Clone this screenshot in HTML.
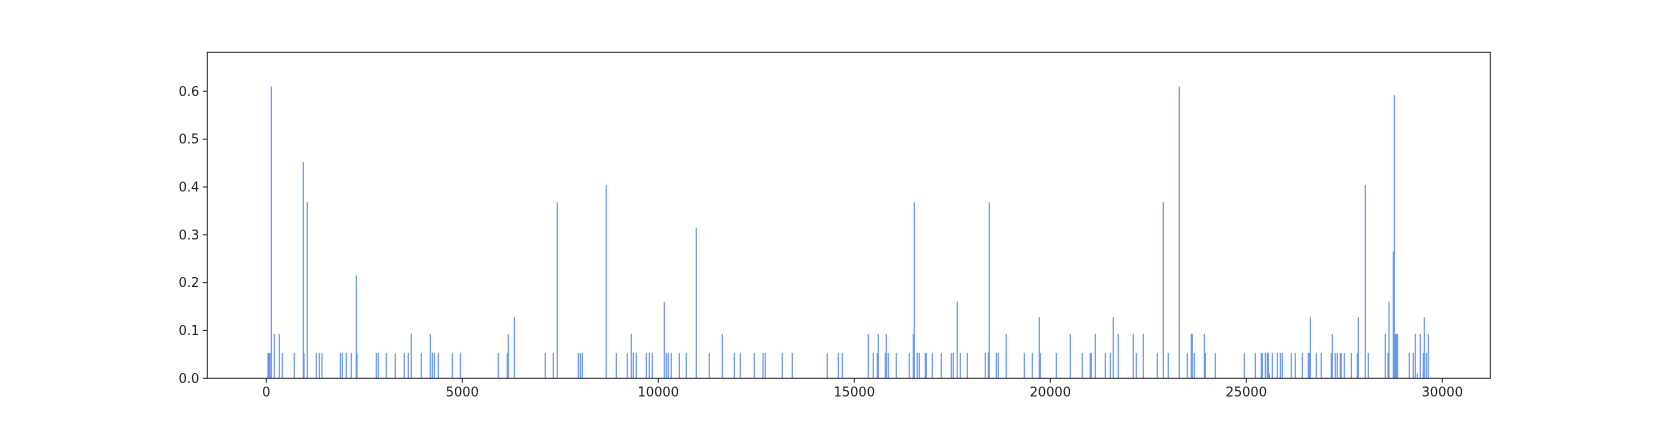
<!DOCTYPE html>
<html><head><meta charset="utf-8">
<style>
html,body{margin:0;padding:0;background:#fff;}
svg{display:block;font-family:"DejaVu Sans","Liberation Sans",sans-serif;}
</style></head>
<body>
<svg id="chart" width="1656" height="432" viewBox="0 0 1656 432" xmlns="http://www.w3.org/2000/svg">
<rect x="0" y="0" width="1656" height="432" fill="#fff"/>
<g id="bars"></g>
<g id="axes"></g>
</svg>
<script>
const xValues = [43,69,94,128,204,332,408,714,944,962,1046,1276,1352,1421,1888,1939,2041,2168,2296,2314,2806,2857,3061,3291,3520,3622,3699,3954,4184,4235,4286,4388,4745,4949,5918,6148,6173,6327,7117,7321,7423,7959,8010,8061,8673,8929,9209,9311,9362,9439,9694,9770,9847,10153,10204,10255,10332,10536,10714,10969,11301,11633,11939,12092,12449,12671,12729,13163,13418,14311,14592,14694,15357,15485,15587,15612,15791,15816,15867,16071,16403,16505,16531,16607,16658,16811,16837,16990,17219,17474,17525,17627,17704,17883,18342,18418,18444,18622,18673,18877,19337,19541,19719,19745,20153,20510,20816,21020,21046,21148,21403,21531,21607,21735,22117,22194,22372,22729,22883,23010,23291,23495,23597,23622,23673,23929,23954,24209,24949,25230,25383,25409,25485,25536,25562,25587,25664,25791,25868,25919,26148,26250,26429,26582,26607,26633,26786,26913,27168,27194,27270,27321,27398,27423,27500,27679,27832,27857,28036,28112,28546,28615,28640,28750,28776,28806,28832,28857,29158,29260,29311,29362,29439,29515,29541,29592,29643];
const yValues = [0.053,0.053,0.053,0.61,0.093,0.093,0.053,0.053,0.452,0.053,0.368,0.053,0.053,0.053,0.053,0.053,0.053,0.053,0.215,0.053,0.053,0.053,0.053,0.053,0.053,0.053,0.093,0.053,0.093,0.053,0.053,0.053,0.053,0.053,0.053,0.053,0.093,0.128,0.053,0.053,0.368,0.053,0.053,0.053,0.404,0.053,0.053,0.093,0.053,0.053,0.053,0.053,0.053,0.16,0.053,0.053,0.053,0.053,0.053,0.315,0.053,0.093,0.053,0.053,0.053,0.053,0.053,0.053,0.053,0.053,0.053,0.053,0.093,0.053,0.053,0.093,0.053,0.093,0.053,0.053,0.053,0.093,0.368,0.053,0.053,0.053,0.053,0.053,0.053,0.053,0.053,0.16,0.053,0.053,0.053,0.053,0.368,0.053,0.053,0.093,0.053,0.053,0.128,0.053,0.053,0.093,0.053,0.053,0.053,0.093,0.053,0.053,0.128,0.093,0.093,0.053,0.093,0.053,0.368,0.053,0.61,0.053,0.093,0.093,0.053,0.093,0.053,0.053,0.053,0.053,0.053,0.053,0.053,0.053,0.053,0.01,0.053,0.053,0.053,0.053,0.053,0.053,0.053,0.053,0.053,0.128,0.053,0.053,0.053,0.093,0.053,0.053,0.053,0.053,0.053,0.053,0.053,0.128,0.404,0.053,0.093,0.053,0.16,0.265,0.592,0.093,0.093,0.093,0.053,0.053,0.093,0.01,0.093,0.053,0.128,0.053,0.093];
const xTicks = [0,5000,10000,15000,20000,25000,30000];
const yTicks = [0,0.1,0.2,0.3,0.4,0.5,0.6];
const yTickLabels = ["0.0","0.1","0.2","0.3","0.4","0.5","0.6"];

const NS = "http://www.w3.org/2000/svg";
const L = 207.3, R = 1490.3, T = 52.3, B = 378.3;
function xs(v){ return 266.3 + v * (1176 / 30000); }
function ys(v){ return B - v * 478.3; }

const barsG = document.getElementById('bars');
for (let i = 0; i < xValues.length; i++) {
  const r = document.createElementNS(NS, 'rect');
  const x = xs(xValues[i]), y = ys(yValues[i]);
  r.setAttribute('x', (x - 0.6).toFixed(2));
  r.setAttribute('y', y.toFixed(2));
  r.setAttribute('width', 1.2);
  r.setAttribute('height', (B - y).toFixed(2));
  r.setAttribute('fill', '#6495ed');
  
  
  barsG.appendChild(r);
}

const ax = document.getElementById('axes');
const frame = document.createElementNS(NS, 'rect');
frame.setAttribute('x', L); frame.setAttribute('y', T);
frame.setAttribute('width', R - L); frame.setAttribute('height', B - T);
frame.setAttribute('fill', 'none'); frame.setAttribute('stroke', '#222'); frame.setAttribute('stroke-width', 1);


ax.appendChild(frame);

xTicks.forEach(function(t){
  const x = xs(t);
  const ln = document.createElementNS(NS, 'line');
  ln.setAttribute('x1', x); ln.setAttribute('x2', x);
  ln.setAttribute('y1', B); ln.setAttribute('y2', B + 4.5);
  ln.setAttribute('stroke', '#222');
  
  
  ax.appendChild(ln);
  const tx = document.createElementNS(NS, 'text');
  tx.setAttribute('x', x); tx.setAttribute('y', B + 18);
  tx.setAttribute('text-anchor', 'middle'); tx.setAttribute('font-size', '13');
  tx.setAttribute('fill', '#222');
  
  
  tx.textContent = String(t);
  ax.appendChild(tx);
});
yTicks.forEach(function(t, i){
  const y = ys(t);
  const ln = document.createElementNS(NS, 'line');
  ln.setAttribute('x1', L - 4.5); ln.setAttribute('x2', L);
  ln.setAttribute('y1', y); ln.setAttribute('y2', y);
  ln.setAttribute('stroke', '#222');
  
  
  ax.appendChild(ln);
  const tx = document.createElementNS(NS, 'text');
  tx.setAttribute('x', L - 8); tx.setAttribute('y', y + 4.5);
  tx.setAttribute('text-anchor', 'end'); tx.setAttribute('font-size', '13');
  tx.setAttribute('fill', '#222');
  
  
  tx.textContent = yTickLabels[i];
  ax.appendChild(tx);
});
</script>
</body></html>
